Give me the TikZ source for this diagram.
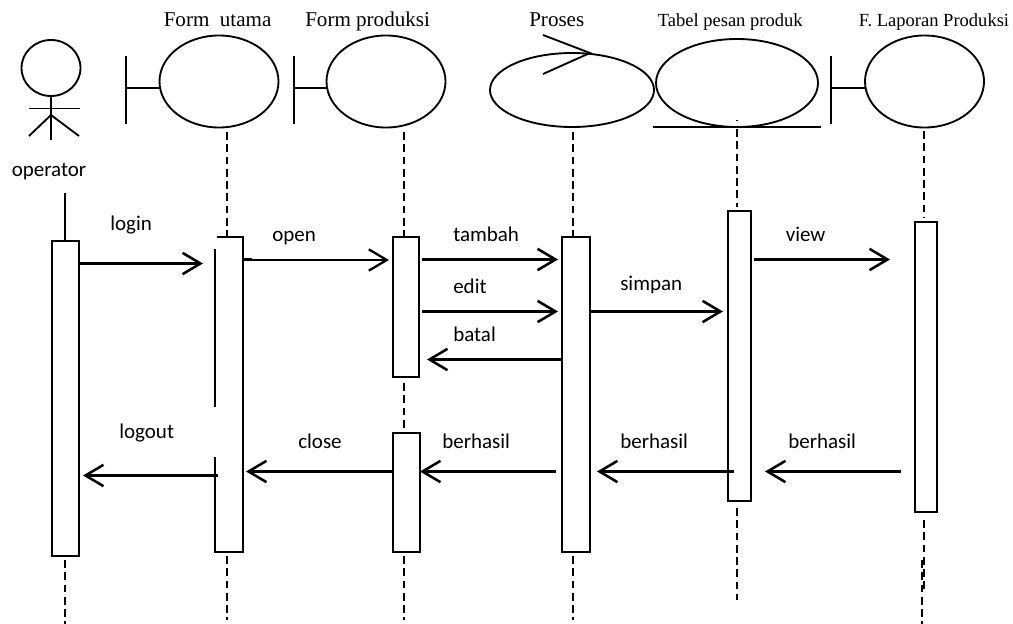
\documentclass[tikz,border=0pt]{standalone}
\usepackage{fontspec}
\setmainfont{Liberation Serif}
\newfontfamily\lblfont{Carlito}
\usetikzlibrary{arrows.meta,shapes.geometric}
\tikzset{
  x=0.75pt,y=-0.75pt,
  lineart/.style={draw=black,line width=1.4pt},
  oval/.style={ellipse,draw=black,line width=1.4pt,inner sep=0pt,outer sep=0pt},
  barbox/.style={rectangle,draw=black,line width=1.3pt,inner sep=0pt,outer sep=0pt,fill=white},
  openbar/.style={rectangle,draw=none,inner sep=0pt,outer sep=0pt,fill=white},
  life/.style={draw=black,line width=1.4pt,dash pattern=on 5.8pt off 3.4pt},
  msg/.style={draw=black,line width=1.9pt,-{Straight Barb[length=13.5pt,width=16pt,line width=1.9pt]}},
  thinmsg/.style={draw=black,line width=0.9pt,-{Straight Barb[length=13.5pt,width=16pt,line width=1.7pt]}},
  msgtext/.style={anchor=base west,inner sep=0pt,font=\lblfont\fontsize{15.75pt}{18pt}\selectfont},
  headbig/.style={anchor=base west,inner sep=0pt,font=\fontsize{15.8pt}{18pt}\selectfont},
  headsmall/.style={anchor=base west,inner sep=0pt,font=\fontsize{13.9pt}{16pt}\selectfont},
}
% name, left, top, right, bottom
\newcommand{\lifebar}[6][barbox]{\node[#1,minimum width={(#5-#3)*0.75pt},minimum height={(#6-#4)*0.75pt}] (#2) at ({(#3+#5)/2},{(#4+#6)/2}) {};}
% name, x, y, rx, ry
\newcommand{\ovalnode}[5]{\node[oval,minimum width={2*#4*0.75pt},minimum height={2*#5*0.75pt}] (#1) at (#2,#3) {};}
% name, style, x1, x2, y
\newcommand{\seqmsg}[5]{\coordinate (#1s) at (#3,#5);\coordinate (#1e) at (#4,#5);\draw[#2] (#1s) -- (#1e);}
% name, x, y1, y2
\newcommand{\lifeline}[4]{\coordinate (#1a) at (#2,#3);\coordinate (#1b) at (#2,#4);\draw[life] (#1a) -- (#1b);}
% name, x, cy, ellipse
\newcommand{\boundary}[4]{\coordinate (#1t) at (#2,56);\coordinate (#1b) at (#2,124);\coordinate (#1m) at (#2,#3);\draw[lineart] (#1t) -- (#1b);\draw[lineart] (#1m) -- (#1m -| #4.west);}
\begin{document}
\begin{tikzpicture}
\useasboundingbox (0,0) rectangle (1013,624);
% actor
\ovalnode{head}{51}{68}{29.5}{28}
\coordinate (neckb) at (51,140);
\coordinate (armL) at (29,108.5);
\coordinate (armR) at (80,108.5);
\coordinate (hip) at (51,115);
\coordinate (legL) at (29,136);
\coordinate (legR) at (79,136);
\draw[lineart] (head.south) -- (neckb);
\draw[lineart] (armL) -- (armR);
\draw[lineart] (legL) -- (hip) -- (legR);
% heads
\ovalnode{utama}{219}{81.5}{59.5}{46}
\ovalnode{produksi}{386}{81.5}{59.5}{46}
\ovalnode{proses}{572}{90}{82}{37}
\ovalnode{tabel}{737}{83}{81}{44}
\ovalnode{laporan}{924.5}{81.5}{59.5}{46}
\boundary{bu}{126}{88}{utama}
\boundary{bp}{294}{88}{produksi}
\boundary{bl}{831}{88}{laporan}
\coordinate (ctlA) at (543,35);
\coordinate (ctlB) at (590,53);
\coordinate (ctlC) at (543,74);
\draw[lineart] (ctlA) -- (ctlB) -- (ctlC);
\coordinate (tabL) at (653,127);
\coordinate (tabR) at (821,127);
\draw[lineart] (tabL) -- (tabR);
\coordinate (dotA) at (737,120);
\coordinate (dotB) at (737,121.5);
\draw[draw=black,line width=0.8pt] (dotA) -- (dotB);
% lifelines
\coordinate (opTop) at (65,193);
\coordinate (opBot) at (65,241);
\lifeline{l1}{65}{560}{624}
\lifeline{l2}{227}{132}{237}
\lifeline{l3}{227}{556}{620}
\lifeline{l4}{404}{132}{237}
\lifeline{l5}{404}{383}{433}
\lifeline{l6}{404}{556}{620}
\lifeline{l7}{573}{132}{237}
\lifeline{l8}{573}{556}{620}
\lifeline{l9}{737}{129}{207}
\lifeline{l10}{737}{508}{600}
\lifeline{l11}{924}{131}{217}
\lifeline{l12}{924}{520}{590}
\lifeline{l13}{922}{560}{624}
% activation bars
\lifebar{barO}{52}{241}{79}{556}
\lifebar[openbar]{barU}{215}{237}{243}{552}
\lifebar{barP}{393}{237}{419}{377}
\lifebar{barQ}{393}{433}{420}{552}
\lifebar{barS}{562}{237}{590}{552}
\lifebar{barT}{728}{211}{751}{501}
\lifebar{barL}{915}{222}{937}{512}
\draw[draw=black,line width=1.3pt] (opTop) -- (opBot);
% form utama bar, left edge broken
\coordinate (uTopL) at (217,237);
\coordinate (uG1a) at (215,249);
\coordinate (uG1b) at (215,407);
\coordinate (uG2a) at (215,457);
\draw[draw=black,line width=1.3pt] (uTopL) -- (barU.north east) -- (barU.south east) -- (barU.south west) -- (uG2a);
\draw[draw=black,line width=1.3pt] (uG1a) -- (uG1b);
% messages
\seqmsg{m1}{msg}{79}{203}{263.5}
\seqmsg{m2}{thinmsg}{243}{389}{260}
\coordinate (m2x) at (252,259);
\draw[draw=black,line width=1.1pt] (barU.east |- m2x) -- (m2x);
\seqmsg{m3}{msg}{422}{558}{259.5}
\seqmsg{m4}{msg}{422}{558}{311.5}
\seqmsg{m5}{msg}{562}{427}{359.5}
\seqmsg{m6}{msg}{589}{723}{311.5}
\seqmsg{m7}{msg}{754}{890}{259.5}
\seqmsg{m8}{msg}{218}{83}{475.5}
\seqmsg{m9}{msg}{393}{246}{471.5}
\seqmsg{m10}{msg}{556}{420}{471.5}
\seqmsg{m11}{msg}{734}{597}{471.5}
\seqmsg{m12}{msg}{901}{765}{471.5}
% labels
\node[headbig] (t1) at (163.5,27) {Form\ \ utama};
\node[headbig] (t2) at (305,27) {Form produksi};
\node[headbig] (t3) at (529,27) {Proses};
\node[headsmall] (t4) at (657.5,27) {Tabel pesan produk};
\node[headsmall] (t5) at (858.5,27) {F. Laporan Produksi};
\node[msgtext] (n0) at (11.5,176) {operator};
\node[msgtext] (n1) at (110,230) {login};
\node[msgtext] (n2) at (272,241) {open};
\node[msgtext] (n3) at (453,241) {tambah};
\node[msgtext] (n4) at (453,293) {edit};
\node[msgtext] (n5) at (453,341) {batal};
\node[msgtext] (n6) at (620,290) {simpan};
\node[msgtext] (n7) at (785.5,241) {view};
\node[msgtext] (n8) at (119,438) {logout};
\node[msgtext] (n9) at (298,448) {close};
\node[msgtext] (n10) at (442,448) {berhasil};
\node[msgtext] (n11) at (620,448) {berhasil};
\node[msgtext] (n12) at (788,448) {berhasil};
\end{tikzpicture}
\end{document}
